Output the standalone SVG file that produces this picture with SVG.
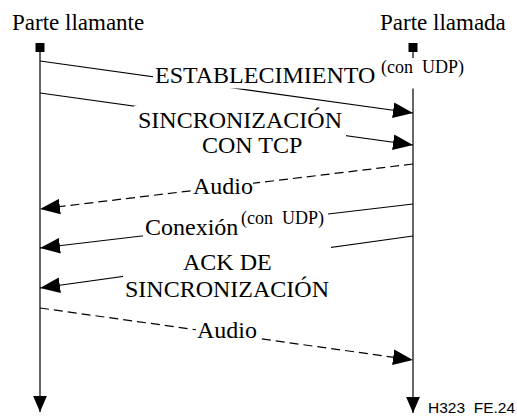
<svg xmlns="http://www.w3.org/2000/svg" width="517" height="416" viewBox="0 0 517 416">
<style>
.t{font-family:"Liberation Serif","Times New Roman",serif;font-size:24px;fill:#000}
.h{font-family:"Liberation Serif","Times New Roman",serif;font-size:23px;fill:#000}
.s{font-family:"Liberation Serif","Times New Roman",serif;font-size:18px;fill:#000}
.f{font-family:"Liberation Sans",Arial,sans-serif;font-size:15.5px;fill:#000}
.life{stroke:#000;stroke-width:1.2;fill:none}
.msg{stroke:#000;stroke-width:1.2;fill:none;marker-end:url(#ah)}
.dash{stroke-dasharray:9 5}
.mask{fill:#fff;stroke:none}
</style>
<defs>
<marker id="ah" markerUnits="userSpaceOnUse" markerWidth="20" markerHeight="16" viewBox="0 0 18 14" refX="18" refY="7" orient="auto">
<path d="M0,0 L18,7 L0,14 Z" fill="#000"/>
</marker>
<marker id="down" markerUnits="userSpaceOnUse" markerWidth="16" markerHeight="14" viewBox="0 0 14 12" refX="14" refY="6" orient="auto">
<path d="M0,0 L14,6 L0,12 Z" fill="#000"/>
</marker>
</defs>
<rect width="517" height="416" fill="#fff"/>
<g id="caller">
<text class="h" x="12" y="30">Parte llamante</text>
<rect x="35.5" y="43" width="9" height="9" fill="#000"/>
<line class="life" x1="40" y1="51" x2="40" y2="412" marker-end="url(#down)"/>
</g>
<g id="callee">
<text class="h" x="380" y="30">Parte llamada</text>
<rect x="408.5" y="43" width="9" height="9" fill="#000"/>
<line class="life" x1="413" y1="51" x2="413" y2="413" marker-end="url(#down)"/>
</g>
<g id="connectors">
<line class="msg" x1="40" y1="61" x2="413" y2="113"/>
<line class="msg" x1="40" y1="93" x2="413" y2="145"/>
<line class="msg dash" x1="413" y1="164" x2="40" y2="209"/>
<line class="msg" x1="413" y1="204" x2="40" y2="248"/>
<line class="msg" x1="413" y1="236" x2="40" y2="288"/>
<line class="msg dash" x1="40" y1="308" x2="413" y2="360"/>
<g id="label-establecimiento">
<rect class="mask" x="153" y="58" width="318" height="30.5"/>
<text class="t" x="155" y="83">ESTABLECIMIENTO</text>
<text class="s" x="381" y="73" xml:space="preserve">(con  UDP)</text>
</g>
<g id="label-sincronizacion">
<rect class="mask" x="134" y="106" width="212" height="54"/>
<text class="t" x="138" y="128">SINCRONIZACIÓN</text>
<text class="t" x="202" y="153">CON TCP</text>
</g>
<g id="label-audio1">
<rect class="mask" x="192" y="176" width="61" height="22"/>
<text class="t" x="193" y="194">Audio</text>
</g>
<g id="label-conexion">
<rect class="mask" x="143" y="211" width="185" height="30"/>
<text class="t" x="145" y="235">Conexión</text>
<text class="s" x="241" y="224" xml:space="preserve">(con  UDP)</text>
</g>
<g id="label-ack">
<rect class="mask" x="123" y="246" width="208" height="57"/>
<text class="t" x="183" y="270">ACK DE</text>
<text class="t" x="125" y="297">SINCRONIZACIÓN</text>
</g>
<g id="label-audio2">
<rect class="mask" x="196" y="320" width="62" height="22"/>
<text class="t" x="197" y="338">Audio</text>
</g>
</g>
<text class="f" x="428" y="413" xml:space="preserve">H323  FE.24</text>
</svg>
